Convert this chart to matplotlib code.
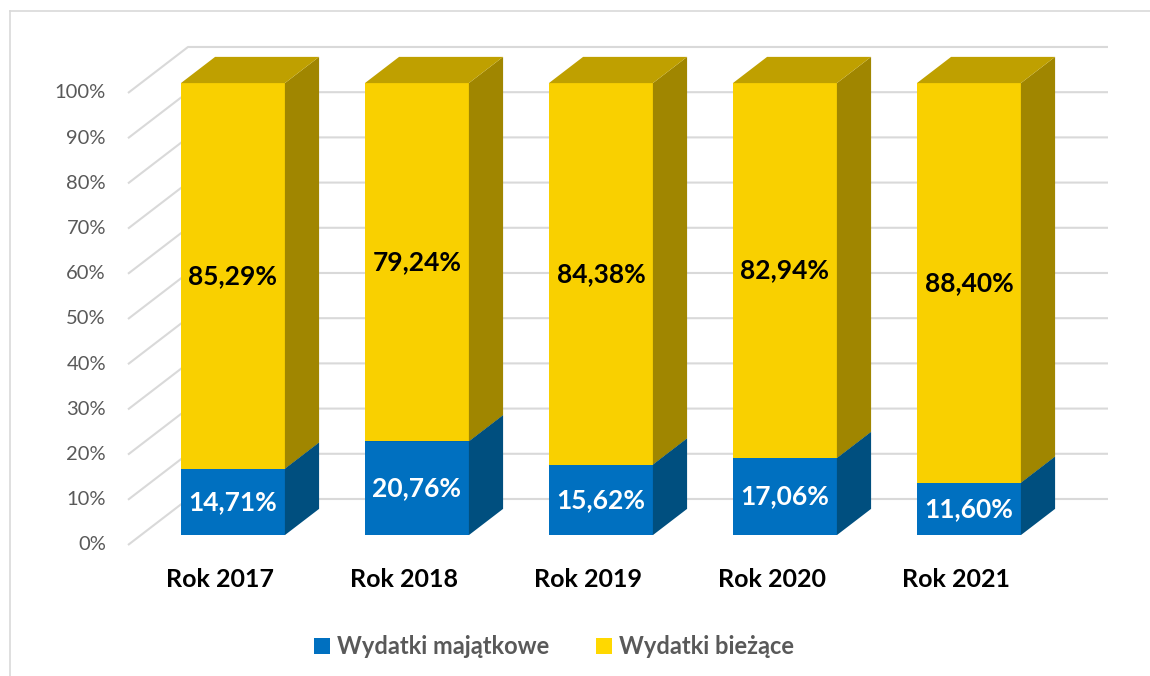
import matplotlib.pyplot as plt
from matplotlib.patches import Polygon, Patch
from matplotlib.lines import Line2D

years = ['Rok 2017', 'Rok 2018', 'Rok 2019', 'Rok 2020', 'Rok 2021']
majatkowe = [14.71, 20.76, 15.62, 17.06, 11.60]
biezace = [85.29, 79.24, 84.38, 82.94, 88.40]
ticks = list(range(0, 101, 10))

plt.rcParams['font.family'] = ['Lato', 'DejaVu Sans']

W, H = 1150, 676
fig = plt.figure(figsize=(W / 100, H / 100), dpi=100)

# pseudo 3D geometry (data units)
DX, DY = 0.326, 10.18          # full depth of the floor / wall
F0, F1 = 0.215, 0.785          # bars sit between these depths
HALF = 0.2826                  # half bar width

px_x, px_y = 184.0, 4.52       # pixels per data unit
x0, x1 = -0.5, 4.5 + DX
y0, y1 = 0.0, 100 + DY
left_px, bottom_px = 128, H - 545
ax = fig.add_axes([left_px / W, bottom_px / H, (x1 - x0) * px_x / W, (y1 - y0) * px_y / H])
ax.set_xlim(x0, x1)
ax.set_ylim(y0, y1)
ax.axis('off')

grid_c = '#D9D9D9'
for t in ticks:
    ax.plot([-0.5, -0.5 + DX, 4.5 + DX], [t, t + DY, t + DY], color=grid_c, lw=1.5,
            zorder=1, solid_capstyle='butt', clip_on=False)
    ax.text(-0.62, t, f'{t}%', ha='right', va='center', fontsize=14.5, color='#595959')

def box(i, lo, hi, front, side, top, z):
    xl = i - HALF + F0 * DX
    xr = i + HALF + F0 * DX
    yb = lo + F0 * DY
    yt = hi + F0 * DY
    ddx, ddy = (F1 - F0) * DX, (F1 - F0) * DY
    ax.add_patch(Polygon([(xl, yb), (xr, yb), (xr, yt), (xl, yt)], closed=True,
                         facecolor=front, edgecolor='none', zorder=z))
    ax.add_patch(Polygon([(xr, yb), (xr + ddx, yb + ddy), (xr + ddx, yt + ddy), (xr, yt)],
                         closed=True, facecolor=side, edgecolor='none', zorder=z))
    ax.add_patch(Polygon([(xl, yt), (xr, yt), (xr + ddx, yt + ddy), (xl + ddx, yt + ddy)],
                         closed=True, facecolor=top, edgecolor='none', zorder=z))
    return (xl + xr) / 2, (yb + yt) / 2

for i, (b, y) in enumerate(zip(majatkowe, biezace)):
    cx, cy = box(i, 0, b, '#0070C0', '#004F7F', '#005A96', 2)
    ax.text(cx, cy, f'{b:.2f}%'.replace('.', ','), ha='center', va='center',
            fontsize=19, fontweight='bold', color='white', zorder=5)
    cx, cy = box(i, b, b + y, '#F9D000', '#A08600', '#BFA000', 3)
    ax.text(cx, cy, f'{y:.2f}%'.replace('.', ','), ha='center', va='center',
            fontsize=19, fontweight='bold', color='black', zorder=5)
    ax.text(i, -7.7, years[i], ha='center', va='center', fontsize=18,
            fontweight='bold', color='black')

handles = [Patch(facecolor='#0070C0', label='Wydatki majątkowe'),
           Patch(facecolor='#FFD800', label='Wydatki bieżące')]
leg = fig.legend(handles=handles, loc='center', bbox_to_anchor=(554 / W, 29 / H), ncol=2,
                 frameon=False, handlelength=0.65, handleheight=0.65, handletextpad=0.3,
                 columnspacing=2.0, prop={'weight': 'bold', 'size': 17})
for txt in leg.get_texts():
    txt.set_color('#595959')

# chart area border (cropped at right and bottom)
fig.add_artist(Line2D([10 / W, 1], [1 - 11 / H, 1 - 11 / H], color=grid_c, lw=1.2))
fig.add_artist(Line2D([10 / W, 10 / W], [0, 1 - 11 / H], color=grid_c, lw=1.2))

fig.savefig('out.png', dpi=100)
